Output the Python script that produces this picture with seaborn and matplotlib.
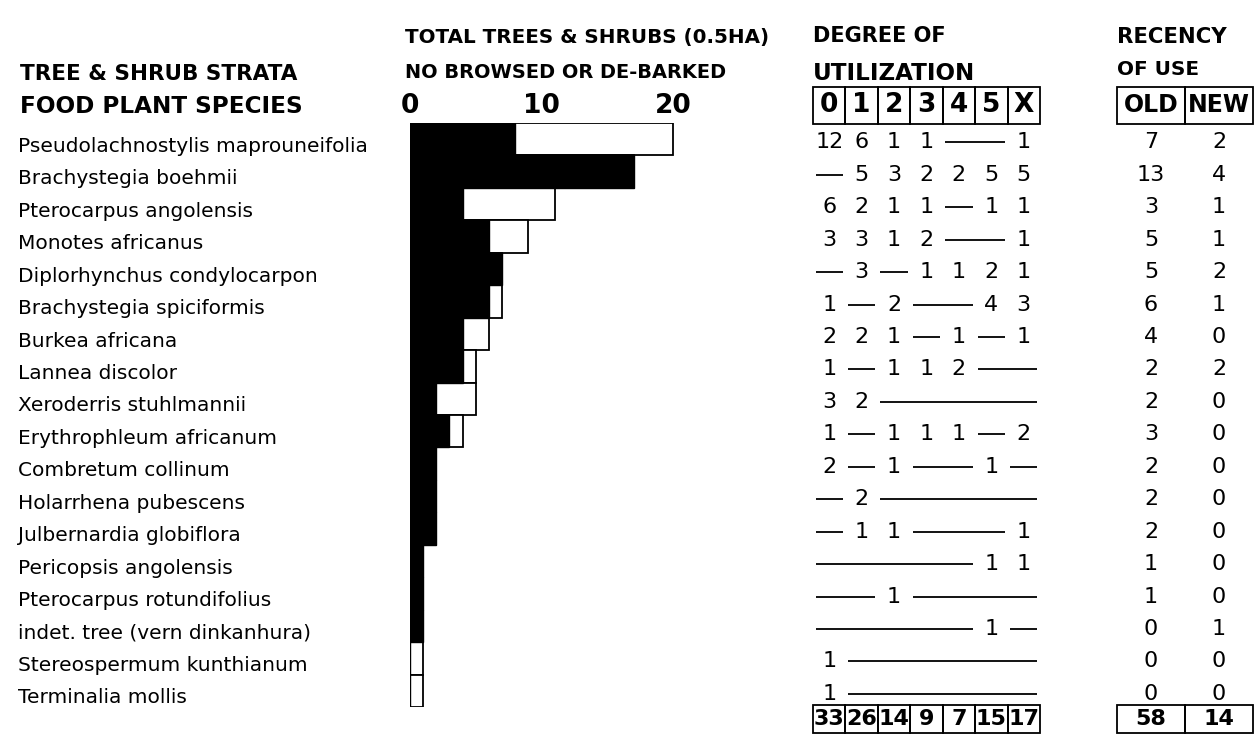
import matplotlib
matplotlib.use("Agg")
import matplotlib.pyplot as plt
import matplotlib.transforms as mtransforms
from matplotlib import font_manager
from matplotlib.patches import Rectangle
import pandas as pd
import seaborn as sns

# --- data ---
species = [
    "Pseudolachnostylis maprouneifolia",
    "Brachystegia boehmii",
    "Pterocarpus angolensis",
    "Monotes africanus",
    "Diplorhynchus condylocarpon",
    "Brachystegia spiciformis",
    "Burkea africana",
    "Lannea discolor",
    "Xeroderris stuhlmannii",
    "Erythrophleum africanum",
    "Combretum collinum",
    "Holarrhena pubescens",
    "Julbernardia globiflora",
    "Pericopsis angolensis",
    "Pterocarpus rotundifolius",
    "indet. tree (vern dinkanhura)",
    "Stereospermum kunthianum",
    "Terminalia mollis",
]
total_trees = [20, 17, 11, 9, 7, 7, 6, 5, 5, 4, 2, 2, 2, 1, 1, 1, 1, 1]
browsed = [8, 17, 4, 6, 7, 6, 4, 4, 2, 3, 2, 2, 2, 1, 1, 1, 0, 0]

degree_labels = ["0", "1", "2", "3", "4", "5", "X"]
degree_counts = [
    [12, 6, 1, 1, 0, 0, 1],
    [0, 5, 3, 2, 2, 5, 5],
    [6, 2, 1, 1, 0, 1, 1],
    [3, 3, 1, 2, 0, 0, 1],
    [0, 3, 0, 1, 1, 2, 1],
    [1, 0, 2, 0, 0, 4, 3],
    [2, 2, 1, 0, 1, 0, 1],
    [1, 0, 1, 1, 2, 0, 0],
    [3, 2, 0, 0, 0, 0, 0],
    [1, 0, 1, 1, 1, 0, 2],
    [2, 0, 1, 0, 0, 1, 0],
    [0, 2, 0, 0, 0, 0, 0],
    [0, 1, 1, 0, 0, 0, 1],
    [0, 0, 0, 0, 0, 1, 1],
    [0, 0, 1, 0, 0, 0, 0],
    [0, 0, 0, 0, 0, 1, 0],
    [1, 0, 0, 0, 0, 0, 0],
    [1, 0, 0, 0, 0, 0, 0],
]
degree_totals = [33, 26, 14, 9, 7, 15, 17]

recency_labels = ["OLD", "NEW"]
recency_old = [7, 13, 3, 5, 5, 6, 4, 2, 2, 3, 2, 2, 2, 1, 1, 0, 0, 0]
recency_new = [2, 4, 1, 1, 2, 1, 0, 2, 0, 0, 0, 0, 0, 0, 0, 1, 0, 0]
recency_totals = [58, 14]

df = pd.DataFrame({"species": species, "total": total_trees, "browsed": browsed})

sns.set_style("white")
names = {f.name for f in font_manager.fontManager.ttflist}
narrow = "Liberation Sans Narrow" if "Liberation Sans Narrow" in names else "DejaVu Sans"
plt.rcParams["font.family"] = ["DejaVu Sans"]
plt.rcParams["text.color"] = "black"
plt.rcParams["xtick.color"] = "black"
plt.rcParams["axes.labelcolor"] = "black"

W, H = 1258, 739
fig = plt.figure(figsize=(W / 100, H / 100), dpi=100)
renderer = fig.canvas.get_renderer()


def box(l, t, r, b):
    return [l / W, 1 - b / H, (r - l) / W, (b - t) / H]


def fit(x, y, s, width, **kw):
    # put text at pixel position and scale it to the measured width
    t = fig.text(x / W, 1 - y / H, s, va="baseline", ha="left", **kw)
    w = t.get_window_extent(renderer).width
    t.set_fontsize(t.get_fontsize() * width / w)
    return t


# --- bar chart ---
ax = fig.add_axes(box(410, 123, 700, 707))
sns.barplot(data=df, x="total", y="species", orient="h", color="white",
            edgecolor="black", linewidth=1.3, width=1.0, saturation=1, ax=ax)
sns.barplot(data=df, x="browsed", y="species", orient="h", color="black",
            edgecolor="black", linewidth=1.0, width=1.0, saturation=1, ax=ax)
ax.set_xlim(0, 290 / 13.15)
ax.set_ylim(len(species) - 0.5, -0.5)
ax.xaxis.tick_top()
ax.set_xticks([0, 10, 20])
ax.set_xticklabels(["0", "10", "20"], family=narrow, fontweight="bold", fontsize=19)
ax.tick_params(axis="x", length=0, pad=3)
ax.tick_params(axis="y", left=False, labelleft=False)
ax.set_xlabel("")
ax.set_ylabel("")
sns.despine(ax=ax, left=True, bottom=True)
ax.spines["top"].set_visible(False)

# species names, sized so the longest one spans the same width as the original
probe = fig.text(0, 0, species[0], fontsize=12)
label_fs = 12 * 349 / probe.get_window_extent(renderer).width
probe.remove()
trans = mtransforms.blended_transform_factory(fig.transFigure, ax.transData)
for i, name in enumerate(species):
    ax.text(18 / W, i + 0.22, name, transform=trans, ha="left", va="center",
            fontsize=label_fs, clip_on=False)

# --- titles ---
fit(20, 80, "TREE & SHRUB STRATA", 278, family=narrow, fontweight="bold")
fit(20, 113, "FOOD PLANT SPECIES", 283, family=narrow, fontweight="bold")
fit(405, 43, "TOTAL TREES & SHRUBS (0.5HA)", 365, family=narrow, fontweight="bold")
fit(405, 78, "NO BROWSED OR DE-BARKED", 322, family=narrow, fontweight="bold")
fit(813, 42, "DEGREE OF", 134, family=narrow, fontweight="bold")
fit(813, 80, "UTILIZATION", 162, family=narrow, fontweight="bold")
fit(1117, 43, "RECENCY", 110, family=narrow, fontweight="bold")
fit(1117, 75, "OF USE", 82, family=narrow, fontweight="bold")

# --- degree of utilization table ---
top_lim, bot_lim = -1.64, 18.40


def table_axes(l, r, ncol):
    a = fig.add_axes(box(l, 86, r, 736))
    a.set_xlim(-0.5, ncol - 0.5)
    a.set_ylim(bot_lim, top_lim)
    a.axis("off")
    return a


def draw_boxes(a, labels, y0, h, fs):
    for j, lab in enumerate(labels):
        a.add_patch(Rectangle((j - 0.5, y0), 1, h, fill=False, edgecolor="black",
                              lw=1.3, clip_on=False))
        a.text(j, y0 + h / 2, lab, ha="center", va="center", family=narrow,
               fontweight="bold", fontsize=fs)


ax_deg = table_axes(813, 1040, len(degree_labels))
draw_boxes(ax_deg, degree_labels, -1.60, 1.12, 19)
draw_boxes(ax_deg, [str(v) for v in degree_totals], 17.45, 0.85, 16)
for i, row in enumerate(degree_counts):
    j = 0
    while j < len(row):
        if row[j] == 0:
            k = j
            while k + 1 < len(row) and row[k + 1] == 0:
                k += 1
            ax_deg.hlines(i + 0.1, j - 0.42, k + 0.42, color="black", lw=1.3)
            j = k + 1
        else:
            ax_deg.text(j, i + 0.1, str(row[j]), ha="center", va="center",
                        family=narrow, fontsize=16)
            j += 1

# --- recency of use table ---
ax_rec = table_axes(1117, 1253, len(recency_labels))
draw_boxes(ax_rec, recency_labels, -1.60, 1.12, 17)
draw_boxes(ax_rec, [str(v) for v in recency_totals], 17.45, 0.85, 16)
for i, (o, n) in enumerate(zip(recency_old, recency_new)):
    ax_rec.text(0, i + 0.1, str(o), ha="center", va="center", family=narrow, fontsize=16)
    ax_rec.text(1, i + 0.1, str(n), ha="center", va="center", family=narrow, fontsize=16)

fig.savefig("out.png", dpi=100)
